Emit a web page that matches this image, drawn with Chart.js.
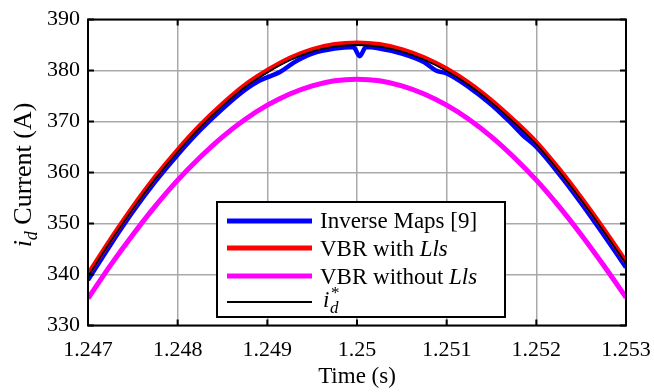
<!DOCTYPE html>
<html>
<head>
<meta charset="utf-8">
<script src="https://cdn.jsdelivr.net/npm/chart.js@4.4.0/dist/chart.umd.min.js"></script>
<style>
  body { margin: 0; background: #fff; }
</style>
</head>
<body>
<canvas id="currentChart" width="654" height="392"></canvas>
<script>
// time grid shared by the smooth curves (s)
const timeGrid = [1.247, 1.24725, 1.2475, 1.24775, 1.248, 1.24825, 1.2485, 1.24875, 1.249,
  1.24925, 1.2495, 1.24975, 1.25, 1.25025, 1.2505, 1.25075, 1.251, 1.25125, 1.2515,
  1.25175, 1.252, 1.25225, 1.2525, 1.25275, 1.253];

// VBR with Lls (A)
const vbrWithLls = [340.0, 346.8, 353.2, 359.1, 364.4, 369.2, 373.4, 377.1, 380.0,
  382.4, 384.1, 385.1, 385.4, 385.1, 384.1, 382.5, 380.3, 377.5, 374.1,
  370.2, 365.9, 360.7, 355.0, 348.9, 342.5];

// VBR without Lls (A)
const vbrWithoutLls = [335.3, 341.8, 347.8, 353.4, 358.5, 363.0, 367.0, 370.4, 373.2,
  375.4, 377.0, 378.0, 378.3, 378.0, 377.0, 375.4, 373.2, 370.4, 367.0,
  363.0, 358.5, 353.4, 347.8, 341.8, 335.5];

// reference i_d* (A)
const idRef = [339.6, 346.4, 352.8, 358.7, 364.0, 368.8, 373.0, 376.7, 379.6,
  382.0, 383.7, 384.7, 385.0, 384.7, 383.7, 382.1, 379.9, 377.1, 373.7,
  369.8, 365.5, 360.3, 354.6, 348.5, 342.1];

// Inverse Maps [9] has its own sample times (wiggles / dips)
const inverseTime = [1.247, 1.24725, 1.2475, 1.24775, 1.248, 1.24825, 1.2485, 1.24875, 1.2489,
  1.24915, 1.2493, 1.2495, 1.24975, 1.24996, 1.25003, 1.2501, 1.25025, 1.2505, 1.25075,
  1.25088, 1.251, 1.25125, 1.2515, 1.2517, 1.25185, 1.252, 1.25225, 1.2525, 1.25275, 1.253];
const inverseMaps = [338.9, 345.8, 352.3, 358.2, 363.5, 368.3, 372.5, 376.2, 377.9,
  379.8, 381.6, 383.3, 384.3, 384.6, 382.8, 384.6, 384.3, 383.3, 381.6,
  380.0, 379.4, 376.7, 373.3, 370.0, 367.3, 365.0, 359.8, 354.0, 347.8, 341.4];

const xTicks = [1.247, 1.248, 1.249, 1.25, 1.251, 1.252, 1.253];
const xTickLabels = ['1.247', '1.248', '1.249', '1.25', '1.251', '1.252', '1.253'];
const yTicks = [330, 340, 350, 360, 370, 380, 390];

const SERIF = '"Liberation Serif", "DejaVu Serif", serif';

function pts(xs, ys) {
  return xs.map((x, i) => ({ x: x, y: ys[i] }));
}

const decorations = {
  id: 'decorations',
  afterDraw(chart) {
    const ctx = chart.ctx;
    const a = chart.chartArea;
    const xs = chart.scales.x, ys = chart.scales.y;
    ctx.save();

    // inward tick marks on all four sides + frame
    ctx.strokeStyle = '#000';
    ctx.lineWidth = 2;
    ctx.beginPath();
    xTicks.forEach(v => {
      const px = xs.getPixelForValue(v);
      ctx.moveTo(px, a.bottom); ctx.lineTo(px, a.bottom - 6);
      ctx.moveTo(px, a.top); ctx.lineTo(px, a.top + 6);
    });
    yTicks.forEach(v => {
      const py = ys.getPixelForValue(v);
      ctx.moveTo(a.left, py); ctx.lineTo(a.left + 6, py);
      ctx.moveTo(a.right, py); ctx.lineTo(a.right - 6, py);
    });
    ctx.stroke();
    ctx.strokeRect(a.left, a.top, a.right - a.left, a.bottom - a.top);

    // legend box
    const bx = 217, by = 202, bw = 288, bh = 115;
    ctx.fillStyle = '#fff';
    ctx.fillRect(bx, by, bw, bh);
    ctx.strokeRect(bx, by, bw, bh);

    const rows = [
      { color: '#0000ff', width: 5, y: 221 },
      { color: '#ff0000', width: 5, y: 248 },
      { color: '#ff00ff', width: 5, y: 276 },
      { color: '#000000', width: 1.8, y: 302 }
    ];
    rows.forEach(r => {
      ctx.strokeStyle = r.color;
      ctx.lineWidth = r.width;
      ctx.beginPath();
      ctx.moveTo(227, r.y); ctx.lineTo(312, r.y);
      ctx.stroke();
    });

    ctx.fillStyle = '#000';
    ctx.textBaseline = 'alphabetic';
    ctx.textAlign = 'left';
    const reg = '23px ' + SERIF, ita = 'italic 23px ' + SERIF;
    function runs(x, y, parts) {
      parts.forEach(p => {
        ctx.font = p[1];
        ctx.fillText(p[0], x, y + (p[2] || 0));
        x += ctx.measureText(p[0]).width;
      });
    }
    runs(320, 228, [['Inverse Maps [9]', reg]]);
    runs(320, 256, [['VBR with ', reg], ['Lls', ita]]);
    runs(320, 284, [['VBR without ', reg], ['Lls', ita]]);
    // i_d^*
    ctx.font = ita; ctx.fillText('i', 323, 307);
    ctx.font = '17px ' + SERIF; ctx.fillText('*', 331, 298);
    ctx.font = 'italic 17px ' + SERIF; ctx.fillText('d', 330, 313);

    // axis titles
    ctx.font = '23px ' + SERIF;
    ctx.textAlign = 'center';
    ctx.fillText('Time (s)', (a.left + a.right) / 2, 383);

    const big = '26px ' + SERIF, bigIta = 'italic 26px ' + SERIF, sub = 'italic 18px ' + SERIF;
    ctx.translate(31, 175);
    ctx.rotate(-Math.PI / 2);
    ctx.textAlign = 'left';
    ctx.font = bigIta;
    const wi = ctx.measureText('i').width;
    ctx.font = sub;
    const wd = ctx.measureText('d').width;
    ctx.font = big;
    const wr = ctx.measureText(' Current (A)').width;
    runs(-(wi + wd + wr) / 2, 0, [['i', bigIta], ['d', sub, 6], [' Current (A)', big]]);
    ctx.restore();
  }
};

const ctx = document.getElementById('currentChart');
new Chart(ctx, {
  type: 'line',
  data: {
    datasets: [
      { label: 'i_d*', data: pts(timeGrid, idRef), borderColor: '#000000', borderWidth: 1.8, order: 0 },
      { label: 'VBR with Lls', data: pts(timeGrid, vbrWithLls), borderColor: '#ff0000', borderWidth: 5, order: 1 },
      { label: 'Inverse Maps [9]', data: pts(inverseTime, inverseMaps), borderColor: '#0000ff', borderWidth: 4.5, order: 2 },
      { label: 'VBR without Lls', data: pts(timeGrid, vbrWithoutLls), borderColor: '#ff00ff', borderWidth: 5, order: 3 }
    ]
  },
  options: {
    responsive: false,
    animation: false,
    devicePixelRatio: 1,
    layout: { padding: { top: 19.5, right: 28, left: 0, bottom: 0 } },
    plugins: { legend: { display: false }, tooltip: { enabled: false } },
    elements: {
      point: { radius: 0 },
      line: { cubicInterpolationMode: 'monotone', fill: false }
    },
    scales: {
      x: {
        type: 'linear',
        min: 1.247,
        max: 1.253,
        afterBuildTicks: s => { s.ticks = xTicks.map(v => ({ value: v })); },
        afterFit: s => { s.height = 66.5; s.paddingLeft = 0; s.paddingRight = 0; },
        grid: { color: '#a9a9a9', lineWidth: 1.5, drawTicks: false },
        border: { display: false },
        ticks: {
          color: '#000',
          font: { family: SERIF, size: 22 },
          padding: 12,
          maxRotation: 0,
          autoSkip: false,
          callback: (v, i) => xTickLabels[i]
        }
      },
      y: {
        type: 'linear',
        min: 330,
        max: 390,
        afterBuildTicks: s => { s.ticks = yTicks.map(v => ({ value: v })); },
        afterFit: s => { s.width = 88; s.paddingTop = 0; s.paddingBottom = 0; },
        grid: { color: '#a9a9a9', lineWidth: 1.5, drawTicks: false },
        border: { display: false },
        ticks: {
          color: '#000',
          font: { family: SERIF, size: 22 },
          padding: 8,
          callback: v => String(v)
        }
      }
    }
  },
  plugins: [decorations]
});
</script>
</body>
</html>
